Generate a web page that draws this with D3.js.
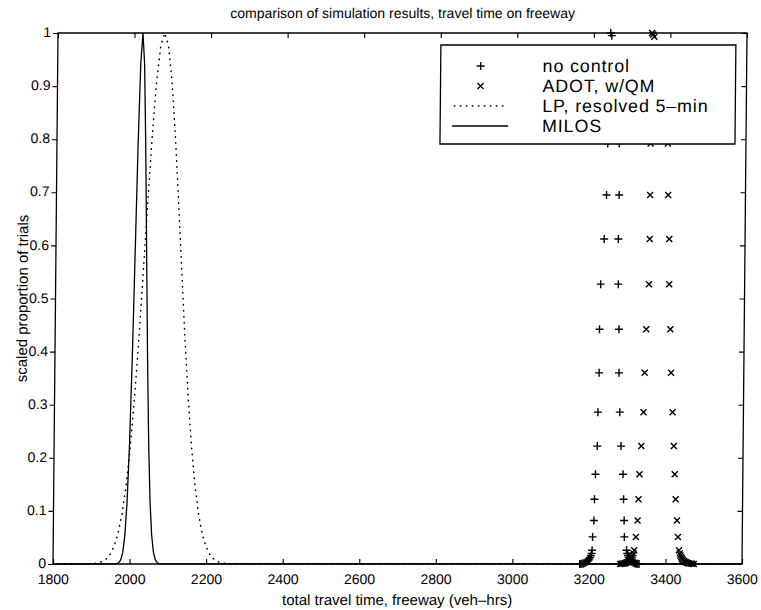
<!DOCTYPE html>
<html>
<head>
<meta charset="utf-8">
<script src="https://cdn.jsdelivr.net/npm/d3@7"></script>
<style>
  html, body { margin: 0; padding: 0; background: #fff; }
  svg text { font-family: "Liberation Sans", Arial, Helvetica, sans-serif; fill: #000; }
</style>
</head>
<body>
<svg id="chart" width="761" height="610"></svg>
<script>
// Axis ticks
const xTicks = [1800, 2000, 2200, 2400, 2600, 2800, 3000, 3200, 3400, 3600];
const yTicks = [0, 0.1, 0.2, 0.3, 0.4, 0.5, 0.6, 0.7, 0.8, 0.9, 1];

// Legend entries
const seriesNames = ["no control", "ADOT, w/QM", "LP, resolved 5\u2013min", "MILOS"];

// "no control" trials (+)
const noControlX = [3244, 3247,
  3241, 3268, 3240, 3269, 3239, 3269, 3237, 3270, 3232, 3269, 3224, 3270, 3222, 3273, 3222, 3274,
  3220, 3277, 3219, 3281, 3215, 3287, 3213, 3289, 3212, 3291, 3209, 3292, 3208, 3298,
  3207, 3205, 3203, 3201, 3199, 3197, 3195, 3192, 3190, 3187, 3185, 3182, 3179, 3176,
  3300, 3302, 3304, 3306, 3308, 3310, 3312, 3315, 3317, 3320, 3322, 3325, 3328, 3331];
const noControlY = [1.0, 0.995,
  0.945, 0.945, 0.87, 0.87, 0.792, 0.792, 0.695, 0.695, 0.612, 0.612, 0.527, 0.527, 0.442, 0.442, 0.36, 0.36,
  0.286, 0.286, 0.222, 0.222, 0.169, 0.169, 0.122, 0.122, 0.082, 0.082, 0.051, 0.051, 0.026, 0.026,
  0.02, 0.016, 0.0125, 0.0097, 0.0075, 0.0057, 0.0043, 0.0032, 0.0023, 0.0016, 0.0011, 0.0007, 0.0004, 0.0002,
  0.02, 0.016, 0.0125, 0.0097, 0.0075, 0.0057, 0.0043, 0.0032, 0.0023, 0.0016, 0.0011, 0.0007, 0.0004, 0.0002];

// "ADOT, w/QM" trials (x)
const adotX = [3352, 3355, 3358,
  3352, 3394, 3352, 3395, 3351, 3396, 3351, 3398, 3351, 3402, 3350, 3403, 3344, 3407, 3341, 3410,
  3339, 3415, 3334, 3419, 3330, 3422, 3328, 3425, 3326, 3429, 3322, 3432, 3318, 3435,
  3316, 3314, 3312, 3310, 3308, 3305, 3303, 3300, 3297, 3294, 3291, 3288, 3285, 3282,
  3437, 3439, 3441, 3443, 3445, 3448, 3450, 3453, 3456, 3459, 3462, 3466, 3470, 3474];
const adotY = [1.0, 0.997, 0.993,
  0.945, 0.945, 0.87, 0.87, 0.792, 0.792, 0.695, 0.695, 0.612, 0.612, 0.527, 0.527, 0.442, 0.442, 0.36, 0.36,
  0.286, 0.286, 0.222, 0.222, 0.169, 0.169, 0.122, 0.122, 0.082, 0.082, 0.051, 0.051, 0.026, 0.026,
  0.02, 0.016, 0.0125, 0.0097, 0.0075, 0.0057, 0.0043, 0.0032, 0.0023, 0.0016, 0.0011, 0.0007, 0.0004, 0.0002,
  0.02, 0.016, 0.0125, 0.0097, 0.0075, 0.0057, 0.0043, 0.0032, 0.0023, 0.0016, 0.0011, 0.0007, 0.0004, 0.0002];

// "LP, resolved 5-min" distribution (dotted)
const lpX = [1800,
  1899, 1909, 1919, 1929, 1939, 1949, 1959, 1969, 1979, 1989, 1999, 2009, 2019, 2029, 2039, 2049, 2059, 2069,
  2079,
  2089, 2099, 2109, 2119, 2129, 2139, 2149, 2159, 2169, 2179, 2189, 2199, 2209, 2219, 2229, 2239, 2249, 2259,
  3600];
const lpY = [0,
  0.0005, 0.0011, 0.0024, 0.0049, 0.0097, 0.0184, 0.0333, 0.0573, 0.0941, 0.1475, 0.2204, 0.3142, 0.4271, 0.5539, 0.6852, 0.8084, 0.9098, 0.9766,
  1,
  0.9766, 0.9098, 0.8084, 0.6852, 0.5539, 0.4271, 0.3142, 0.2204, 0.1475, 0.0941, 0.0573, 0.0333, 0.0184, 0.0097, 0.0049, 0.0024, 0.0011, 0.0005,
  0];

// "MILOS" distribution (solid)
const milosX = [1800,
  1962, 1967, 1972, 1977, 1982, 1987, 1992, 1997, 2002, 2007, 2012, 2017,
  2022,
  2027, 2032, 2037, 2042, 2047, 2052, 2057, 2062, 2067, 2072, 2077, 2082,
  3600];
const milosY = [0,
  0.0002, 0.00075, 0.0026, 0.0081, 0.0223, 0.0543, 0.1176, 0.2262, 0.3863, 0.5856, 0.7884, 0.9423,
  1,
  0.9423, 0.7884, 0.5856, 0.3863, 0.2262, 0.1176, 0.0543, 0.0223, 0.0081, 0.0026, 0.00075, 0.0002,
  0];

const svg = d3.select("#chart");

// Plot frame
const frame = { left: 53, right: 742, top: 33, bottom: 564 };
const x = d3.scaleLinear().domain([1800, 3600]).range([frame.left, frame.right]);
const y = d3.scaleLinear().domain([0, 1]).range([frame.bottom, frame.top]);

// the printed page leans slightly: the top of the frame sits a few pixels right of the bottom
const root = svg.append("g")
  .attr("transform", `translate(0,${frame.bottom}) skewX(-0.54) translate(0,${-frame.bottom})`);

const plusPath = "M-4,0H4M0,-4V4";
const crossPath = "M-3,-3L3,3M-3,3L3,-3";

const line = d3.line().x(d => x(d[0])).y(d => y(d[1]));

const plot = root.append("g");

plot.append("path")
  .datum(d3.zip(lpX, lpY))
  .attr("d", line)
  .attr("fill", "none")
  .attr("stroke", "#000")
  .attr("stroke-width", 1.5)
  .attr("stroke-linecap", "round")
  .attr("stroke-dasharray", "0.5 5.5");

plot.append("path")
  .datum(d3.zip(milosX, milosY))
  .attr("d", line)
  .attr("fill", "none")
  .attr("stroke", "#000")
  .attr("stroke-width", 1.3);

plot.append("g").selectAll("path")
  .data(d3.zip(noControlX, noControlY))
  .join("path")
  .attr("transform", d => `translate(${x(d[0])},${y(d[1])})`)
  .attr("d", plusPath)
  .attr("stroke", "#000")
  .attr("stroke-width", 1.4)
  .attr("fill", "none");

plot.append("g").selectAll("path")
  .data(d3.zip(adotX, adotY))
  .join("path")
  .attr("transform", d => `translate(${x(d[0])},${y(d[1])})`)
  .attr("d", crossPath)
  .attr("stroke", "#000")
  .attr("stroke-width", 1.4)
  .attr("fill", "none");

// Axes
function styleAxis(g) {
  g.select(".domain").remove();
  g.selectAll(".tick line").attr("stroke", "#000").attr("stroke-width", 1.1);
  g.selectAll(".tick text").attr("font-size", 14);
}

root.append("g")
  .attr("transform", `translate(0,${frame.bottom})`)
  .call(d3.axisBottom(x).tickValues(xTicks).tickFormat(d3.format("d")).tickSizeInner(-5).tickSizeOuter(0).tickPadding(10))
  .call(styleAxis);

root.append("g")
  .attr("transform", `translate(0,${frame.top})`)
  .call(d3.axisTop(x).tickValues(xTicks).tickFormat("").tickSizeInner(-5).tickSizeOuter(0))
  .call(styleAxis);

root.append("g")
  .attr("transform", `translate(${frame.left},0)`)
  .call(d3.axisLeft(y).tickValues(yTicks).tickFormat(d => d3.format("~g")(d)).tickSizeInner(5).tickSizeOuter(0).tickPadding(2))
  .call(styleAxis)
  .call(g => g.selectAll(".tick text").attr("dy", "0.26em"));

root.append("g")
  .attr("transform", `translate(${frame.right},0)`)
  .call(d3.axisRight(y).tickValues(yTicks).tickFormat("").tickSizeInner(-5).tickSizeOuter(0))
  .call(styleAxis);

root.append("rect")
  .attr("x", frame.left).attr("y", frame.top)
  .attr("width", frame.right - frame.left).attr("height", frame.bottom - frame.top)
  .attr("fill", "none")
  .attr("stroke", "#000")
  .attr("stroke-width", 1.3);

// Titles
root.append("text")
  .attr("x", (frame.left + frame.right) / 2).attr("y", 18)
  .attr("text-anchor", "middle")
  .attr("font-size", 14)
  .text("comparison of simulation results, travel time on freeway");

root.append("text")
  .attr("x", (frame.left + frame.right) / 2).attr("y", 605)
  .attr("text-anchor", "middle")
  .attr("font-size", 15)
  .text("total travel time, freeway (veh\u2013hrs)");

root.append("text")
  .attr("transform", `translate(25,${(frame.top + frame.bottom) / 2}) rotate(-90)`)
  .attr("text-anchor", "middle")
  .attr("font-size", 15)
  .text("scaled proportion of trials");

// Legend (opaque, drawn over the markers)
const legend = root.append("g");
const lg = { left: 436, top: 45, width: 295, height: 99 };
legend.append("rect")
  .attr("x", lg.left).attr("y", lg.top)
  .attr("width", lg.width).attr("height", lg.height)
  .attr("fill", "#fff")
  .attr("stroke", "#000")
  .attr("stroke-width", 1.3);

const rowY = i => lg.top + 21 + i * 20;
const symX = lg.left + 40, sampleL = lg.left + 12, sampleR = lg.left + 68, textX = lg.left + 102;

legend.append("path").attr("transform", `translate(${symX},${rowY(0)})`).attr("d", plusPath)
  .attr("stroke", "#000").attr("stroke-width", 1.3);
legend.append("path").attr("transform", `translate(${symX},${rowY(1)})`).attr("d", crossPath)
  .attr("stroke", "#000").attr("stroke-width", 1.3);
legend.append("line")
  .attr("x1", sampleL + 2).attr("x2", sampleR - 4).attr("y1", rowY(2)).attr("y2", rowY(2))
  .attr("stroke", "#000").attr("stroke-width", 1.5).attr("stroke-linecap", "round")
  .attr("stroke-dasharray", "0.5 5.5");
legend.append("line")
  .attr("x1", sampleL).attr("x2", sampleR).attr("y1", rowY(3)).attr("y2", rowY(3))
  .attr("stroke", "#000").attr("stroke-width", 1.3);

legend.selectAll("text.lg")
  .data(seriesNames)
  .join("text")
  .attr("class", "lg")
  .attr("x", textX)
  .attr("y", (d, i) => rowY(i))
  .attr("dy", "0.36em")
  .attr("font-size", 17.8)
  .attr("letter-spacing", 0.9)
  .text(d => d);
</script>
</body>
</html>
